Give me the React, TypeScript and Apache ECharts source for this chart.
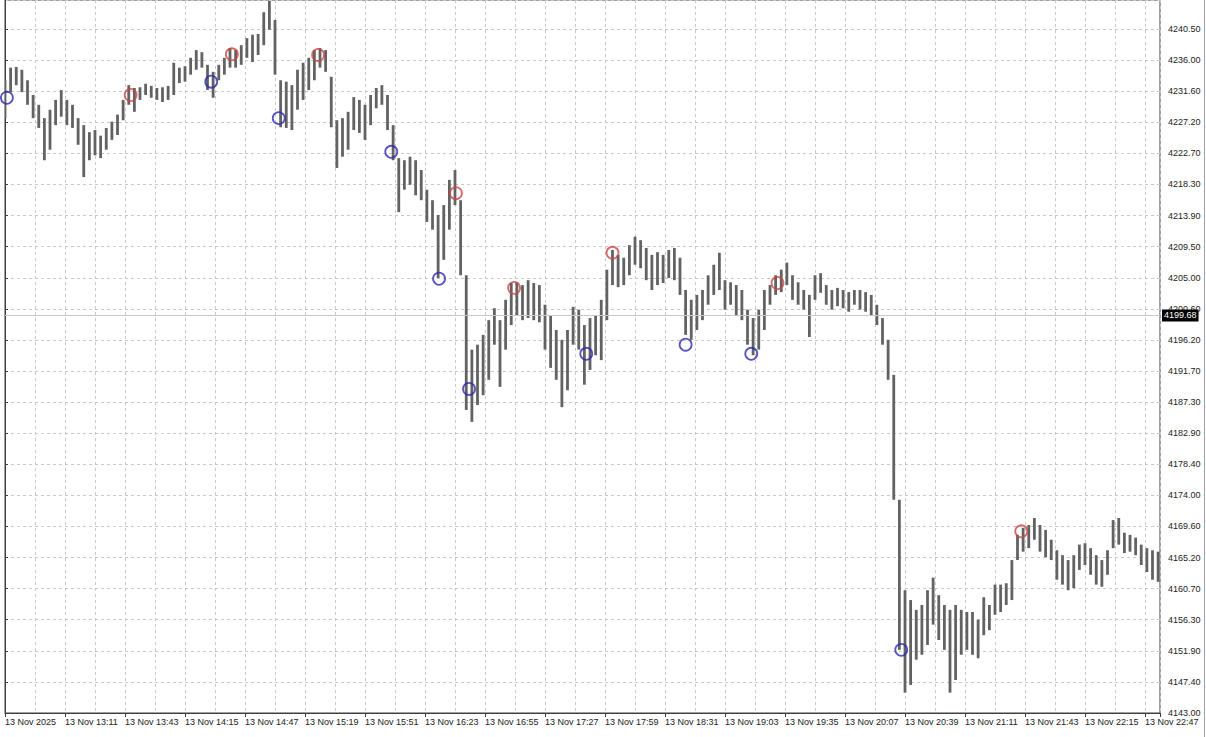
import React, { useEffect, useRef } from "react";
import * as echarts from "echarts";

const BASE = 4143;
const Y_STEP = 97.5 / 22;
const BAR_MINUTES = 3;
const CURRENT_PRICE = 4199.68;

const X_LABELS = [
  "13 Nov 2025", "13 Nov 13:11", "13 Nov 13:43", "13 Nov 14:15", "13 Nov 14:47",
  "13 Nov 15:19", "13 Nov 15:51", "13 Nov 16:23", "13 Nov 16:55", "13 Nov 17:27",
  "13 Nov 17:59", "13 Nov 18:31", "13 Nov 19:03", "13 Nov 19:35", "13 Nov 20:07",
  "13 Nov 20:39", "13 Nov 21:11", "13 Nov 21:43", "13 Nov 22:15", "13 Nov 22:47",
];

const Y_LABELS = [
  "4143.00", "4147.40", "4151.90", "4156.30", "4160.70", "4165.20", "4169.60",
  "4174.00", "4178.40", "4182.90", "4187.30", "4191.70", "4196.20", "4200.60",
  "4205.00", "4209.50", "4213.90", "4218.30", "4222.70", "4227.20", "4231.60",
  "4236.00", "4240.50",
];

const HIGH = [
  4233.2, 4235.0, 4235.1, 4234.7, 4233.2, 4231.1, 4229.7, 4227.8, 4229.0, 4230.4,
  4231.8, 4230.4, 4229.7, 4227.8, 4226.8, 4225.8, 4226.1, 4225.3, 4226.4, 4227.3,
  4228.3, 4230.4, 4232.5, 4232.1, 4232.2, 4232.7, 4232.4, 4232.1, 4232.2, 4232.4,
  4235.7, 4235.0, 4235.2, 4236.4, 4237.5, 4237.2, 4235.4, 4234.4, 4235.4, 4236.4,
  4237.8, 4237.5, 4238.2, 4239.2, 4239.7, 4239.8, 4242.9, 4244.5, 4241.8, 4233.2,
  4233.0, 4232.5, 4234.7, 4235.7, 4236.4, 4237.5, 4237.8, 4237.5, 4233.7, 4227.5,
  4227.8, 4228.7, 4230.8, 4230.4, 4229.7, 4231.1, 4232.1, 4232.5, 4231.1, 4226.8,
  4222.1, 4221.8, 4222.3, 4221.8, 4220.4, 4217.6, 4216.1, 4214.0, 4215.4, 4219.0,
  4220.4, 4216.1, 4205.4, 4194.8, 4195.5, 4196.9, 4199.0, 4200.7, 4199.0, 4201.9,
  4204.3, 4204.4, 4204.0, 4204.7, 4204.3, 4204.0, 4201.2, 4199.7, 4197.6, 4196.2,
  4197.6, 4200.9, 4200.5, 4198.3, 4199.3, 4199.7, 4201.9, 4206.2, 4209.0, 4208.3,
  4207.9, 4209.7, 4210.9, 4210.4, 4209.3, 4208.3, 4208.7, 4208.3, 4209.0, 4209.3,
  4207.9, 4203.3, 4201.9, 4202.6, 4203.3, 4205.4, 4206.9, 4208.6, 4204.7, 4204.4,
  4204.0, 4203.3, 4200.5, 4199.3, 4200.5, 4203.3, 4204.0, 4205.4, 4206.2, 4207.2,
  4205.4, 4204.4, 4203.3, 4202.6, 4205.4, 4205.7, 4204.0, 4203.3, 4203.6, 4203.3,
  4203.0, 4203.3, 4203.3, 4203.0, 4202.6, 4201.2, 4199.3, 4196.2, 4191.2, 4173.4,
  4160.5, 4159.1, 4157.7, 4158.4, 4160.5, 4162.3, 4159.8, 4158.4, 4157.7, 4158.4,
  4157.7, 4157.4, 4157.4, 4156.3, 4159.5, 4158.4, 4161.3, 4161.3, 4161.5, 4164.8,
  4168.4, 4169.4, 4169.8, 4170.8, 4169.8, 4169.1, 4167.7, 4166.2, 4165.5, 4164.8,
  4165.5, 4167.0, 4167.2, 4166.5, 4165.5, 4164.8, 4166.2, 4170.5, 4170.8, 4168.7,
  4168.4, 4168.0, 4167.0, 4166.5, 4166.2, 4166.0,
];

const LOW = [
  4227.8, 4231.5, 4232.5, 4231.5, 4229.7, 4227.8, 4226.4, 4221.8, 4223.3, 4226.8,
  4228.0, 4226.8, 4226.4, 4224.0, 4219.4, 4221.8, 4222.5, 4222.1, 4223.3, 4224.7,
  4225.4, 4227.5, 4229.7, 4228.7, 4230.4, 4231.1, 4230.7, 4230.4, 4230.1, 4230.4,
  4231.1, 4232.8, 4233.0, 4234.0, 4234.7, 4235.0, 4231.8, 4230.7, 4233.2, 4234.0,
  4235.0, 4235.0, 4235.4, 4236.4, 4235.8, 4236.8, 4238.2, 4240.4, 4234.0, 4226.5,
  4226.4, 4226.1, 4229.0, 4230.4, 4231.8, 4233.2, 4235.0, 4234.4, 4226.5, 4220.7,
  4222.3, 4223.3, 4226.1, 4225.7, 4224.7, 4226.8, 4229.2, 4229.7, 4226.1, 4221.8,
  4214.4, 4217.6, 4218.3, 4216.8, 4216.1, 4213.0, 4211.9, 4205.0, 4207.6, 4211.9,
  4215.4, 4205.4, 4186.2, 4184.5, 4186.9, 4188.3, 4190.5, 4195.5, 4189.5, 4194.8,
  4198.3, 4199.7, 4199.0, 4199.3, 4199.0, 4198.7, 4194.8, 4192.2, 4190.5, 4186.6,
  4189.0, 4195.5, 4194.8, 4189.8, 4191.9, 4194.0, 4193.3, 4199.0, 4204.0, 4203.7,
  4204.0, 4205.4, 4206.9, 4206.4, 4204.7, 4203.3, 4204.0, 4204.3, 4205.0, 4204.7,
  4202.6, 4196.9, 4196.2, 4197.6, 4199.0, 4201.2, 4202.6, 4203.3, 4200.5, 4201.2,
  4199.7, 4199.0, 4195.5, 4194.0, 4194.8, 4197.6, 4201.2, 4202.6, 4203.0, 4204.0,
  4201.9, 4201.2, 4200.5, 4196.6, 4201.9, 4202.9, 4201.2, 4200.5, 4201.0, 4200.7,
  4200.2, 4201.2, 4200.5, 4200.2, 4199.7, 4198.3, 4195.5, 4190.5, 4173.4, 4152.0,
  4145.9, 4147.0, 4150.6, 4151.3, 4152.7, 4155.6, 4153.4, 4152.0, 4145.9, 4147.7,
  4151.3, 4152.0, 4151.3, 4150.8, 4154.1, 4154.8, 4157.0, 4157.4, 4158.4, 4159.1,
  4164.8, 4166.0, 4166.5, 4167.7, 4166.0, 4165.2, 4164.8, 4162.0, 4161.3, 4160.5,
  4160.8, 4163.4, 4164.1, 4162.7, 4161.3, 4161.0, 4162.7, 4166.5, 4167.0, 4165.8,
  4166.0, 4165.5, 4164.1, 4163.1, 4162.0, 4161.7,
];

const RED_TIME = [67, 121, 167, 240.5, 271.5, 324, 412, 542];
const RED_PRICE = [4231.1, 4236.9, 4236.8, 4217.1, 4203.6, 4208.6, 4204.3, 4168.9];
const BLUE_TIME = [1, 110, 146, 206, 231.5, 247.5, 310, 363, 398, 478];
const BLUE_PRICE = [4230.7, 4233.0, 4227.8, 4223.0, 4204.9, 4189.2, 4194.2, 4195.5, 4194.2, 4152.0];

const X_MAX = 616;
const Y_MAX = 101.64;
const LABEL_FONT = "Liberation Sans, Arial, sans-serif";

export default function App() {
  const ref = useRef<HTMLDivElement>(null);

  useEffect(() => {
    document.body.style.margin = "0";
    if (!ref.current) return;
    const chart = echarts.init(ref.current, undefined, { renderer: "svg" });

    const bars = HIGH.map((h, i) => [i * BAR_MINUTES, h - BASE, LOW[i] - BASE]);
    const reds = RED_TIME.map((t, i) => [t, RED_PRICE[i] - BASE]);
    const blues = BLUE_TIME.map((t, i) => [t, BLUE_PRICE[i] - BASE]);

    const dashed = { color: "#c8c8c8", type: [3, 3] as any, width: 1 };

    chart.setOption({
      animation: false,
      backgroundColor: "#ffffff",
      grid: {
        left: 5,
        right: 46,
        top: 0,
        bottom: 24,
        show: true,
        borderColor: "#404040",
        borderWidth: 1,
        backgroundColor: "#ffffff",
      },
      graphic: [
        {
          type: "line",
          shape: { x1: 1204.5, y1: 0, x2: 1204.5, y2: 737 },
          style: { stroke: "#a0a0a0", lineWidth: 1 },
        },
      ],
      xAxis: {
        type: "value",
        min: 0,
        max: X_MAX,
        interval: 32,
        axisLine: { show: true, lineStyle: { color: "#404040" } },
        axisTick: { show: true, length: 4, lineStyle: { color: "#404040" } },
        axisLabel: {
          show: true,
          align: "left",
          margin: 4,
          fontSize: 9,
          fontFamily: LABEL_FONT,
          color: "#222",
          showMinLabel: true,
          showMaxLabel: true,
          hideOverlap: false,
          formatter: (v: number) => {
            const k = Math.round(v / 32);
            if (Math.abs(v - k * 32) > 0.01) return "";
            return X_LABELS[k] ?? "";
          },
        },
        splitLine: { show: true, lineStyle: dashed },
        minorTick: { show: false, splitNumber: 2 },
        minorSplitLine: { show: true, lineStyle: dashed },
      },
      yAxis: {
        type: "value",
        position: "right",
        min: 0,
        max: Y_MAX,
        interval: Y_STEP,
        axisLine: { show: true, lineStyle: { color: "#404040" } },
        axisTick: { show: true, length: 3, lineStyle: { color: "#404040" } },
        axisLabel: {
          show: true,
          margin: 8,
          fontSize: 9,
          fontFamily: LABEL_FONT,
          color: "#222",
          showMinLabel: true,
          showMaxLabel: false,
          formatter: (v: number) => {
            const k = Math.round(v / Y_STEP);
            if (Math.abs(v - k * Y_STEP) > 0.01) return "";
            return Y_LABELS[k] ?? "";
          },
        },
        splitLine: { show: true, lineStyle: dashed },
      },
      series: [
        {
          type: "custom",
          data: bars,
          encode: { x: 0, y: [1, 2] },
          clip: true,
          renderItem: (params: any, api: any) => {
            const x = api.value(0);
            const p1 = api.coord([x, api.value(1)]);
            const p2 = api.coord([x, api.value(2)]);
            return {
              type: "line",
              shape: { x1: p1[0], y1: p1[1], x2: p2[0], y2: p2[1] },
              style: { stroke: "#626262", lineWidth: 2.8 },
            };
          },
          markLine: {
            silent: true,
            symbol: "none",
            data: [{ yAxis: CURRENT_PRICE - BASE }],
            lineStyle: { color: "#c8c8c8", type: "solid", width: 1 },
            label: {
              show: true,
              position: "end",
              distance: 2,
              formatter: CURRENT_PRICE.toFixed(2),
              backgroundColor: "#000",
              color: "#fff",
              padding: [2, 2, 1, 2],
              fontSize: 9,
              fontFamily: LABEL_FONT,
            },
          },
          z: 2,
        },
        {
          type: "scatter",
          data: reds,
          symbol: "circle",
          symbolSize: 12,
          itemStyle: { color: "rgba(0,0,0,0)", borderColor: "#cc4444", borderWidth: 1.8 },
          z: 3,
        },
        {
          type: "scatter",
          data: blues,
          symbol: "circle",
          symbolSize: 12,
          itemStyle: { color: "rgba(0,0,0,0)", borderColor: "#2a2ab0", borderWidth: 1.8 },
          z: 3,
        },
      ],
    });

    return () => {
      chart.dispose();
    };
  }, []);

  return (
    <div
      ref={ref}
      style={{ position: "fixed", left: 0, top: 0, width: 1206, height: 737, background: "#fff" }}
    />
  );
}
